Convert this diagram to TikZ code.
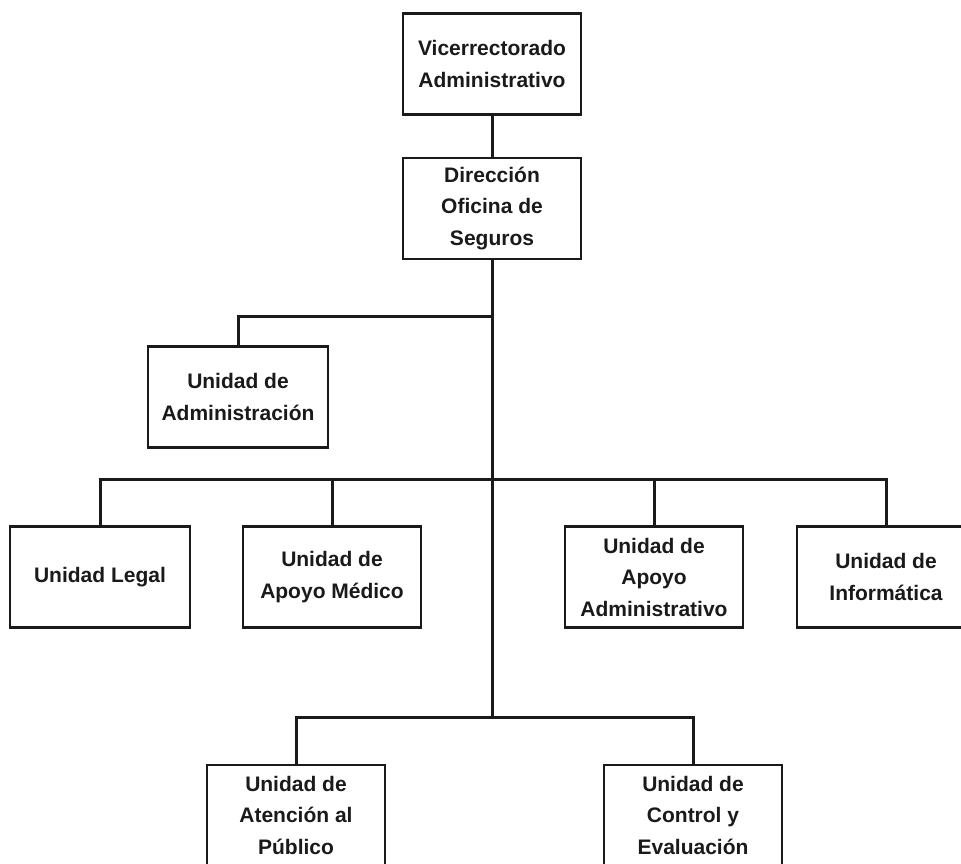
\documentclass[tikz,border=0pt]{standalone}
\usepackage{fontspec}
\setmainfont{Liberation Sans}
\usepackage{xcolor}
\definecolor{ink}{HTML}{1A1A1A}
\usepackage{tikz}
\usetikzlibrary{positioning}
\tikzset{
  every picture/.style={x=1pt, y=-1pt},
  unit/.style={draw=ink, line width=2.4pt, fill=white, align=center, inner sep=0pt,
    minimum width=178pt, minimum height=101pt,
    font=\bfseries\fontsize{21}{31.5}\selectfont, text=ink},
  link/.style={draw=ink, line width=3pt},
}
\begin{document}
\begin{tikzpicture}
  \useasboundingbox (0,0) rectangle (961,863);
  \clip (0,0) rectangle (961,863);
  \node[unit] (vic) at (492,64) {Vicerrectorado\\Administrativo};
  \node[unit, below=41pt of vic] (dir) {Dirección\\Oficina de\\Seguros};
  \node[unit, minimum width=180pt] (adm) at (238,397) {Unidad de\\Administración};
  \node[unit, minimum width=180pt] (legal) at (100,577) {Unidad Legal};
  \node[unit] (med) at (332,577) {Unidad de\\Apoyo Médico};
  \node[unit] (apoyo) at (654,577) {Unidad de\\Apoyo\\Administrativo};
  \node[unit] (info) at (886,577) {Unidad de\\Informática};
  \node[unit, minimum height=100pt] (aten) at (296,815) {Unidad de\\Atención al\\Público};
  \node[unit, minimum height=100pt] (ctrl) at (693,815) {Unidad de\\Control y\\Evaluación};
  % junctions on the trunk
  \coordinate (j1) at (492,316);
  \coordinate (j2) at (492,479);
  \coordinate (j3) at (492,717);
  \draw[link] (vic) -- (dir);
  \draw[link] (dir.south) -- (j3);
  \draw[link] (adm.north) |- (j1);
  \foreach \n in {legal,med,apoyo,info} \draw[link] (\n.north) |- (j2);
  \foreach \n in {aten,ctrl} \draw[link] (\n.north) |- (j3);
\end{tikzpicture}
\end{document}
